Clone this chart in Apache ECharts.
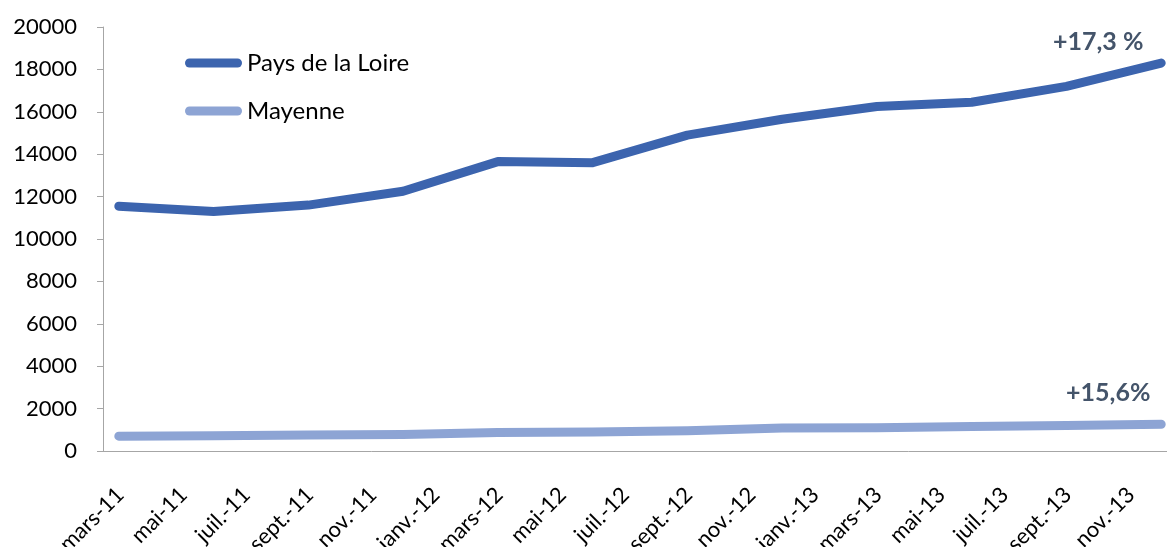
<!DOCTYPE html>
<html>
<head>
<meta charset="utf-8">
<script src="https://cdn.jsdelivr.net/npm/echarts@6/dist/echarts.min.js"></script>
<style>
  html, body { margin: 0; padding: 0; background: #fff; overflow: hidden; }
  /* plot runs a little past the right edge, as in the original */
  #chart { width: 1177px; height: 547px; }
</style>
</head>
<body>
<div id="chart"></div>
<script>
// monthly slots from mars-11 to déc.-13, values are quarterly
const monthNames = ['janv.', 'févr.', 'mars', 'avr.', 'mai', 'juin', 'juil.', 'août', 'sept.', 'oct.', 'nov.', 'déc.'];
const years = ['11', '12', '13'];
const firstMonth = 2; // mars
const quarterStep = 3;

const paysDeLaLoire = [11550, 11300, 11600, 12250, 13650, 13600, 14900, 15650, 16250, 16450, 17200, 18300];
const mayenne = [700, 720, 750, 780, 870, 900, 960, 1080, 1100, 1150, 1200, 1260];

const growthLabels = ['+17,3 %', '+15,6%'];

const categories = [];
years.forEach((y, yi) => {
  monthNames.forEach((m, mi) => {
    if (yi === 0 && mi < firstMonth) return;
    categories.push(m + '-' + y);
  });
});

function spread(values) {
  const out = categories.map(() => null);
  values.forEach((v, i) => { out[i * quarterStep] = v; });
  return out;
}

const lastIdx = (paysDeLaLoire.length - 1) * quarterStep;
const font = 'Lato';
const pill = 'path://M4.5,0 L52.5,0 A4.5,4.5 0 0 1 52.5,9 L4.5,9 A4.5,4.5 0 0 1 4.5,0 Z';

function growthLabel(text, offset) {
  return {
    show: true,
    position: 'inside',
    offset: offset,
    formatter: text,
    fontSize: 25,
    fontWeight: 'bold',
    color: '#44546A',
    fontFamily: font
  };
}

const chart = echarts.init(document.getElementById('chart'));
chart.setOption({
  animation: false,
  textStyle: { fontFamily: font },
  grid: { left: 103, right: 0, top: 27, bottom: 96, containLabel: false, outerBoundsMode: 'none' },
  legend: {
    orient: 'vertical',
    left: 185,
    top: 51,
    padding: 0,
    itemWidth: 57,
    itemHeight: 9,
    itemGap: 24,
    textStyle: { fontSize: 24, color: '#000', fontFamily: font },
    data: [
      { name: 'Pays de la Loire', icon: pill },
      { name: 'Mayenne', icon: pill }
    ]
  },
  xAxis: {
    type: 'category',
    data: categories,
    boundaryGap: true,
    axisLine: { lineStyle: { color: '#A6A6A6', width: 1 } },
    axisTick: { interval: 1, length: 7, alignWithLabel: false, lineStyle: { color: '#A6A6A6' } },
    axisLabel: {
      interval: 1,
      rotate: 45,
      margin: 26,
      verticalAlign: 'top',
      padding: [0, 9, 0, 0],
      fontSize: 22,
      color: '#000',
      fontFamily: font
    },
    splitLine: { show: false }
  },
  yAxis: {
    type: 'value',
    min: 0,
    max: 20000,
    interval: 2000,
    axisLine: { show: true, lineStyle: { color: '#A6A6A6', width: 1 } },
    axisTick: { show: true, length: 6, lineStyle: { color: '#A6A6A6' } },
    axisLabel: {
      margin: 26,
      fontSize: 22,
      color: '#000',
      fontFamily: font,
      formatter: v => String(v)
    },
    splitLine: { show: false }
  },
  series: [
    {
      name: 'Pays de la Loire',
      type: 'line',
      data: spread(paysDeLaLoire),
      connectNulls: true,
      showSymbol: false,
      symbol: 'none',
      itemStyle: { color: '#3C64AE' },
      lineStyle: { width: 9, color: '#3C64AE', cap: 'round', join: 'round' },
      markPoint: {
        symbol: 'circle',
        symbolSize: 0,
        data: [{ coord: [categories[lastIdx], paysDeLaLoire[paysDeLaLoire.length - 1]] }],
        label: growthLabel(growthLabels[0], [-63, -21])
      }
    },
    {
      name: 'Mayenne',
      type: 'line',
      data: spread(mayenne),
      connectNulls: true,
      showSymbol: false,
      symbol: 'none',
      itemStyle: { color: '#8DA4D4' },
      lineStyle: { width: 9, color: '#8DA4D4', cap: 'round', join: 'round' },
      markPoint: {
        symbol: 'circle',
        symbolSize: 0,
        data: [{ coord: [categories[lastIdx], mayenne[mayenne.length - 1]] }],
        label: growthLabel(growthLabels[1], [-53, -31])
      }
    }
  ]
});
</script>
</body>
</html>
